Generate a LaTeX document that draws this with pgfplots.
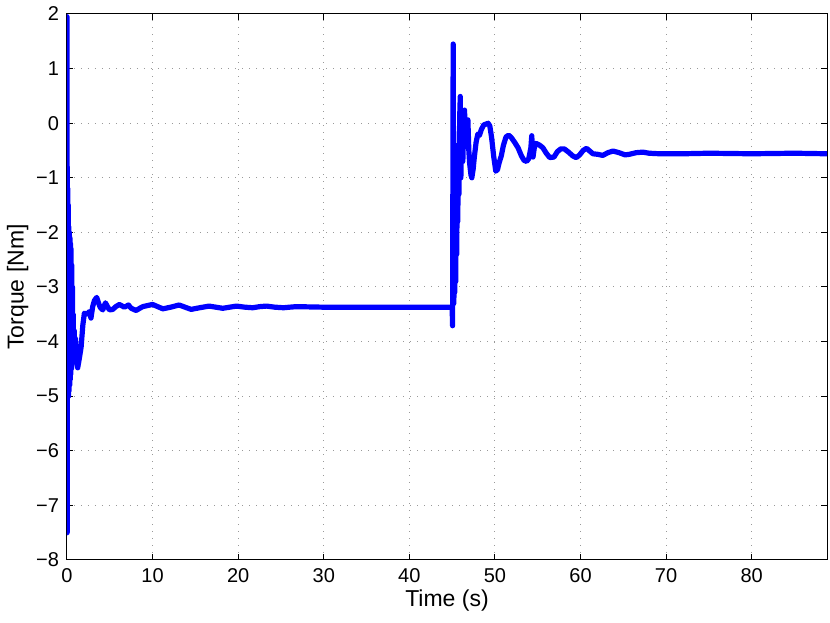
\documentclass[border=0pt]{standalone}
\usepackage{fontspec}
\setmainfont{Liberation Sans}
\usepackage{pgfplots}
\pgfplotsset{compat=1.18}
\begin{document}
\begin{tikzpicture}
\begin{axis}[
  scale only axis,
  width=380pt, height=273pt,
  xmin=0, xmax=88.8, ymin=-8, ymax=2,
  xtick={0,10,...,80},
  xticklabels={0,10,20,30,40,50,60,70,80},
  ytick={-8,-7,...,2},
  yticklabels={−8,−7,−6,−5,−4,−3,−2,−1,0,1,2},
  tick align=inside,
  major tick length=3.2pt,
  tick style={black, line width=0.5pt},
  axis line style={black, line width=0.5pt},
  grid=major,
  major grid style={gray!80, line width=0.5pt, dash pattern=on 0.5pt off 3pt},
  ticklabel style={font=\fontsize{10}{12}\selectfont},
  label style={font=\fontsize{11.5}{13}\selectfont},
  xlabel={Time (s)},
  ylabel={Torque [Nm]},
  xticklabel style={yshift=-0.5pt},
  yticklabel style={xshift=-0.5pt},
  xlabel style={yshift=3pt},
  ylabel style={yshift=-3pt},
  clip=true,
]
\addplot[color={rgb,255:red,0;green,0;blue,255}, line width=2.6pt, line join=round, line cap=round] coordinates {
(0,1.95) (0.02,-7.5) (0.04,-0.8) (0.07,-5.0) (0.1,-1.2) (0.13,-4.9)
(0.16,-1.5) (0.19,-5.0) (0.22,-1.9) (0.25,-4.9) (0.28,-2.0) (0.31,-4.8)
(0.34,-2.1) (0.37,-4.7) (0.4,-2.2) (0.44,-4.6) (0.48,-2.3) (0.52,-4.5)
(0.56,-2.6) (0.6,-4.4) (0.64,-3.0) (0.68,-4.3) (0.72,-3.5) (0.78,-4.2)
(0.85,-3.8) (0.92,-4.3) (1.0,-3.95) (1.1,-4.35) (1.25,-4.48) (1.45,-4.3)
(1.65,-4.1) (1.85,-3.7) (2.03,-3.48) (2.3,-3.5) (2.62,-3.45) (2.8,-3.57)
(3.0,-3.36) (3.2,-3.25) (3.47,-3.19) (3.7,-3.3) (3.87,-3.37) (4.18,-3.42)
(4.49,-3.29) (4.7,-3.35) (4.96,-3.42) (5.35,-3.41) (5.7,-3.36) (6.12,-3.32)
(6.7,-3.37) (7.18,-3.33) (7.5,-3.39) (8.08,-3.43) (8.5,-3.39) (8.85,-3.36)
(9.4,-3.34) (10.0,-3.32) (10.6,-3.36) (11.2,-3.40) (12.1,-3.37) (13.1,-3.33)
(13.8,-3.37) (14.5,-3.41) (15.5,-3.38) (16.6,-3.35) (17.4,-3.37) (18.2,-3.39)
(19.0,-3.37) (19.8,-3.35) (20.8,-3.37) (21.7,-3.38) (22.5,-3.36) (23.3,-3.35)
(24.3,-3.37) (25.3,-3.38) (26.0,-3.37) (26.8,-3.36) (30,-3.37)
(35,-3.37) (40,-3.37) (45.0,-3.37) (45.05,-3.71) (45.12,1.45) (45.2,-3.3)
(45.25,-2.3) (45.3,-3.1) (45.36,-1.5) (45.42,-2.9) (45.48,-1.0) (45.54,-2.4)
(45.6,-0.6) (45.66,-1.8) (45.72,-0.4) (45.8,-1.3) (45.88,0.1) (45.95,0.49)
(46.02,-1.0) (46.1,-0.2) (46.18,0.12) (46.25,-0.7) (46.33,-0.2) (46.45,0.24)
(46.55,-0.35) (46.65,-0.05) (46.84,0.06) (46.95,-0.5) (47.04,-0.73) (47.2,-0.95)
(47.3,-1.0) (47.45,-0.85) (47.6,-0.61) (47.8,-0.35) (48.0,-0.2) (48.2,-0.22)
(48.4,-0.12) (48.7,-0.03) (48.9,-0.02) (49.2,0.0) (49.4,-0.05) (49.6,-0.25)
(49.85,-0.6) (50.1,-0.88) (50.3,-0.85) (50.5,-0.72) (50.74,-0.6) (51.0,-0.4)
(51.3,-0.25) (51.6,-0.22) (51.9,-0.26) (52.3,-0.35) (52.7,-0.45) (53.1,-0.6)
(53.4,-0.68) (53.7,-0.70) (53.95,-0.65) (54.2,-0.45) (54.3,-0.23) (54.45,-0.62)
(54.6,-0.45) (54.8,-0.37) (55.2,-0.4) (55.6,-0.45) (56.0,-0.55) (56.4,-0.63)
(56.9,-0.62) (57.3,-0.52) (57.7,-0.47) (58.1,-0.47) (58.6,-0.53) (59.1,-0.6)
(59.5,-0.63) (59.9,-0.58) (60.3,-0.5) (60.7,-0.46) (61.0,-0.5) (61.45,-0.56)
(62.0,-0.57) (62.6,-0.59) (63.2,-0.54) (63.8,-0.51) (64.5,-0.54) (65.2,-0.58)
(65.7,-0.57) (66.5,-0.54) (67.3,-0.53) (68,-0.55) (69.25,-0.56) (72,-0.56)
(75,-0.55) (80,-0.56) (85,-0.55) (88.8,-0.56)
};
\coordinate (a) at (rel axis cs:0,0);
\coordinate (b) at (rel axis cs:1,1);
\end{axis}
\pgfresetboundingbox
\useasboundingbox ([shift={(-33.5pt,-31.5pt)}]a) rectangle ([shift={(1.5pt,7pt)}]b);
\end{tikzpicture}
\end{document}
